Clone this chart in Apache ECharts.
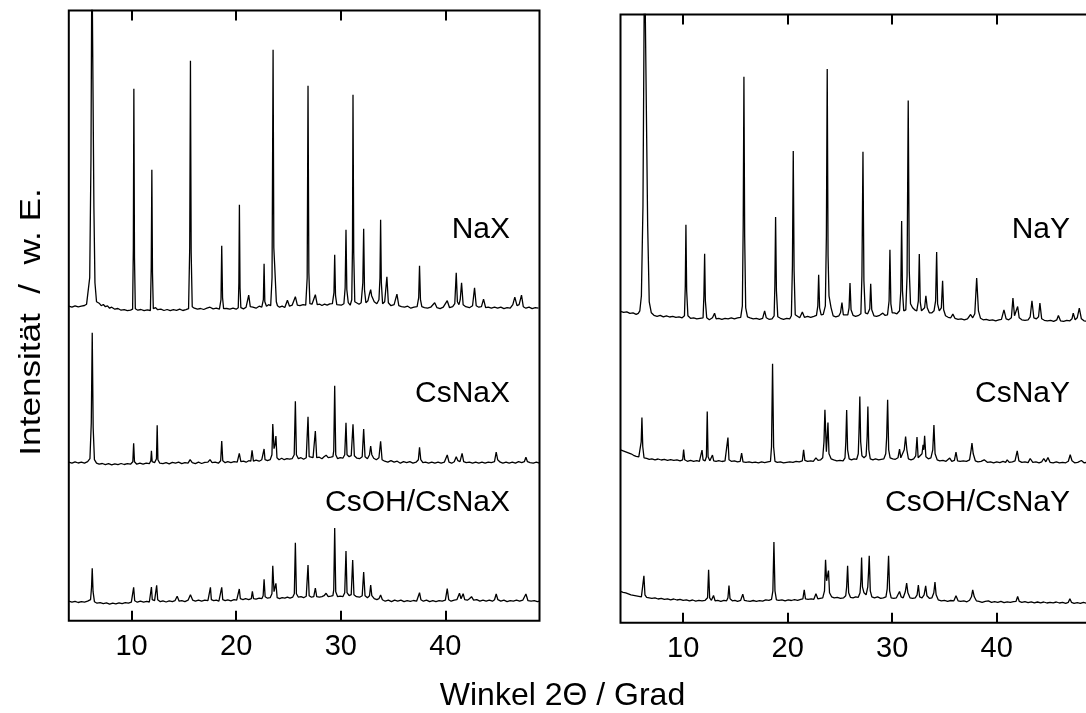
<!DOCTYPE html>
<html>
<head>
<meta charset="utf-8">
<title>Röntgendiffraktogramme</title>
<script src="https://cdn.jsdelivr.net/npm/echarts@6.0.0/dist/echarts.min.js"></script>
<style>
  html, body { margin: 0; padding: 0; background: #fff; }
  #chart { width: 1086px; height: 713px; }
</style>
</head>
<body>
<div id="chart"></div>
<script>
// Diffraction angle ticks (2Θ / Grad)
const thetaTicks = [10, 20, 30, 40];

// Pattern names as written next to each trace
const namesX = ['NaX', 'CsNaX', 'CsOH/CsNaX'];
const namesY = ['NaY', 'CsNaY', 'CsOH/CsNaY'];

// Vertical offsets used to stack the patterns (arbitrary units)
const offsetsX = [313, 158, 19];
const offsetsY = [307, 161, 22];

// Measured intensities [2Θ, I] (w. E.), relative to each pattern's base line
const NaX = [[4.0,1.5],[4.3,0.5],[4.6,1.8],[4.9,0.8],[5.2,1.5],[5.5,2.2],[5.7,3.5],[5.85,5],[6.0,30],[6.12,150],[6.21,360],[6.28,360],[6.4,100],[6.5,25],[6.65,6],[6.9,4.5],[7.1,2],[7.3,3.2],[7.5,1],[7.7,1.8],[7.9,-0.5],[8.1,0.5],[8.4,-1.5],[8.7,-0.8],[9.0,-2.5],[9.3,-2],[9.6,-3],[9.9,-2.5],[10.1,-1.5],[10.17,60],[10.22,219],[10.28,50],[10.36,-1],[10.6,-2.5],[10.9,-1.8],[11.2,-3],[11.5,-2.2],[11.8,-2.8],[11.88,40],[11.94,138],[12.0,35],[12.08,-1],[12.3,0],[12.5,-2],[12.8,-1.5],[13.1,-2.8],[13.4,-1.8],[13.7,-3],[14.0,-2],[14.3,-2.6],[14.6,-1.5],[14.9,-2.8],[15.2,-2],[15.45,-1],[15.56,60],[15.63,247],[15.7,55],[15.8,1],[16.0,-0.5],[16.3,-1.5],[16.6,-0.8],[16.9,-1.8],[17.2,-0.5],[17.5,0.5],[17.8,-1.2],[18.1,-0.5],[18.4,-1.5],[18.55,8],[18.62,62],[18.7,10],[18.8,-1],[19.1,-0.8],[19.4,-1.5],[19.7,-0.5],[20.0,-1.5],[20.2,0],[20.26,25],[20.31,103],[20.37,20],[20.45,0],[20.7,-1.2],[20.95,0.5],[21.2,12.5],[21.35,1],[21.6,0.5],[21.9,-0.5],[22.2,1.5],[22.45,0.5],[22.6,8],[22.67,44],[22.74,6],[22.9,1.5],[23.1,3],[23.3,2],[23.43,30],[23.53,258],[23.6,60],[23.68,43],[23.78,43],[23.84,6],[23.95,2],[24.15,0.5],[24.4,1.5],[24.65,0.2],[24.9,7.5],[25.1,1.5],[25.35,2.5],[25.66,11],[25.85,2.5],[26.1,2],[26.4,3],[26.65,2.5],[26.79,30],[26.87,222],[26.95,35],[27.05,4],[27.25,3.5],[27.57,13],[27.75,3],[28.0,3.5],[28.2,2.2],[28.45,3.5],[28.7,2.5],[28.95,3.8],[29.2,4],[29.35,15],[29.42,53],[29.5,12],[29.62,3],[29.8,1.5],[30.05,2.5],[30.3,4],[30.42,20],[30.5,78],[30.58,18],[30.72,5],[30.9,2.5],[31.05,8],[31.12,60],[31.17,213],[31.24,55],[31.34,6],[31.5,4.5],[31.75,3.5],[31.95,5],[32.11,25],[32.19,79],[32.27,18],[32.4,5],[32.6,7],[32.75,14],[32.86,18],[32.95,12],[33.05,14],[33.2,6],[33.45,4],[33.65,8],[33.75,30],[33.81,88],[33.88,25],[34.0,4],[34.2,6],[34.41,31],[34.55,5],[34.8,2],[35.1,3],[35.37,13.5],[35.55,2],[35.8,1],[36.1,0.5],[36.4,1.5],[36.7,-0.5],[37.0,0.5],[37.3,1],[37.45,10],[37.53,42],[37.62,8],[37.75,1],[38.0,0],[38.3,-0.5],[38.6,0.5],[38.98,5],[39.2,0],[39.5,-1],[39.8,0.5],[40.18,7],[40.4,0],[40.7,1],[40.9,4],[41.04,35],[41.15,6],[41.3,3],[41.42,8],[41.55,25],[41.7,3],[41.95,1],[42.3,0],[42.6,2],[42.79,20],[42.95,2],[43.2,0.5],[43.45,1],[43.65,8.5],[43.85,0],[44.1,0.5],[44.4,-0.5],[44.7,0.5],[45.0,-0.5],[45.3,0.5],[45.6,-1],[45.9,0],[46.2,-0.5],[46.45,3],[46.64,10.5],[46.85,2],[47.05,3],[47.28,12.5],[47.45,1],[47.7,-0.5],[48.0,0.5],[48.3,-1],[48.6,0],[48.9,-0.5]];

const CsNaX = [[4.0,0.5],[4.3,-0.5],[4.6,0.8],[4.9,-0.3],[5.2,0.5],[5.5,-0.5],[5.8,1],[6.02,4],[6.15,40],[6.24,130],[6.33,35],[6.45,3],[6.65,-0.5],[6.9,-1.5],[7.2,-0.8],[7.5,-2],[7.8,-1],[8.1,-2.2],[8.4,-1.2],[8.7,-2],[9.0,-0.8],[9.3,-1.8],[9.6,-1],[9.9,-1.5],[10.12,1],[10.2,19.5],[10.28,1],[10.5,-1.5],[10.8,-0.5],[11.1,-1.5],[11.4,-0.5],[11.7,-1],[11.84,2],[11.9,12],[11.97,1],[12.2,0],[12.38,4],[12.45,37.5],[12.52,3],[12.7,-0.5],[13.0,-1],[13.3,0],[13.6,-1.2],[13.9,0.3],[14.2,-0.5],[14.5,0.5],[14.8,-1],[15.1,0],[15.4,-0.5],[15.6,3],[15.8,0],[16.1,-1],[16.4,0.5],[16.7,-0.8],[17.0,0.3],[17.3,0.5],[17.5,3],[17.7,0],[18.0,0.5],[18.3,-0.5],[18.52,2],[18.62,21.7],[18.72,2],[18.95,0],[19.2,1],[19.5,0],[19.8,1],[20.1,0.5],[20.3,9.4],[20.45,1],[20.7,1.5],[20.95,0.5],[21.2,2],[21.4,1.5],[21.52,12.4],[21.65,1.5],[21.9,2.5],[22.2,1.5],[22.45,3],[22.6,5],[22.67,13.7],[22.76,3],[23.0,2],[23.25,3],[23.42,8],[23.5,38.7],[23.62,14],[23.72,18],[23.8,26.7],[23.9,5],[24.1,3],[24.35,4.5],[24.6,3],[24.85,4],[25.1,3.5],[25.35,4],[25.55,8],[25.66,61.4],[25.76,8],[25.95,4],[26.2,5],[26.45,3.5],[26.7,5],[26.87,46],[26.98,6],[27.15,4.5],[27.35,5],[27.57,31.7],[27.7,5],[27.95,5.5],[28.2,4],[28.4,6],[28.6,7.5],[28.8,5],[29.05,5.5],[29.25,6],[29.33,12],[29.42,77],[29.52,8],[29.7,4],[29.95,5],[30.2,4.5],[30.38,8],[30.5,40],[30.6,8],[30.8,6],[31.0,7],[31.17,38.4],[31.3,7],[31.55,4.5],[31.8,4],[32.05,6],[32.19,33.7],[32.32,6],[32.55,4],[32.75,8],[32.86,16.7],[32.97,8],[33.15,4.5],[33.4,3],[33.65,5],[33.81,21.4],[33.95,3],[34.2,1.5],[34.5,0.5],[34.8,2],[35.1,0.5],[35.4,1.5],[35.7,-0.5],[36.0,1],[36.3,0],[36.6,1],[36.9,-0.5],[37.2,0.5],[37.42,3],[37.53,15.4],[37.65,3],[37.85,0],[38.1,0.5],[38.4,-0.5],[38.7,0.5],[39.0,-0.5],[39.3,0.5],[39.6,-0.5],[39.9,0.5],[40.18,7.7],[40.35,0.5],[40.6,-0.5],[40.85,1],[41.04,6],[41.2,2],[41.4,1],[41.6,9.4],[41.75,1],[42.0,0],[42.3,0.5],[42.6,-0.5],[42.9,0.5],[43.2,-0.5],[43.5,0.5],[43.8,-0.5],[44.1,0.5],[44.4,0],[44.7,1],[44.86,10.7],[45.0,3],[45.25,0.5],[45.5,-0.5],[45.8,0.5],[46.1,-0.5],[46.4,0.5],[46.7,-0.5],[47.0,1],[47.3,0],[47.55,1],[47.7,5.4],[47.85,1],[48.1,0],[48.4,-0.5],[48.7,0.5],[49.0,-0.5]];

const CsOH_CsNaX = [[4.0,0.5],[4.3,-0.5],[4.6,0.3],[4.9,-0.8],[5.2,0],[5.5,-0.5],[5.8,0.5],[6.08,2],[6.17,14],[6.24,33.4],[6.32,10],[6.45,0],[6.7,-1.5],[7.0,-1],[7.3,-2],[7.6,-1.2],[7.9,-2.5],[8.2,-1.5],[8.5,-2.2],[8.8,-1.2],[9.1,-2],[9.4,-1],[9.7,-1.5],[9.98,-0.5],[10.12,1],[10.2,14.4],[10.3,1],[10.55,-0.5],[10.85,0.5],[11.15,-0.5],[11.45,0.3],[11.7,-0.3],[11.83,1],[11.9,14.7],[11.98,2],[12.2,1],[12.32,2],[12.4,16.4],[12.5,2],[12.75,0],[13.0,0.8],[13.3,-0.3],[13.6,0.8],[13.9,0],[14.15,1],[14.36,5.4],[14.55,0.5],[14.8,1],[15.1,0],[15.4,1.5],[15.63,7],[15.85,1.5],[16.1,0.5],[16.4,1.5],[16.7,0.5],[17.0,1.5],[17.3,1],[17.46,2],[17.54,14.4],[17.63,2],[17.85,1],[18.1,1.5],[18.35,0.5],[18.52,2],[18.62,14.4],[18.72,2],[18.95,1],[19.2,1.8],[19.5,0.8],[19.8,2],[20.05,1.5],[20.22,3],[20.3,12.7],[20.4,3],[20.65,2],[20.9,3],[21.2,2],[21.45,3],[21.55,10.4],[21.66,3],[21.9,2.5],[22.2,3.5],[22.45,3],[22.58,6],[22.67,22.4],[22.77,5],[23.0,3.5],[23.25,4],[23.42,8],[23.5,36],[23.62,10],[23.72,12],[23.8,18.4],[23.92,4],[24.15,3],[24.4,4],[24.65,3.5],[24.9,4.5],[25.15,3.5],[25.4,4.5],[25.56,8],[25.66,59],[25.76,8],[25.95,4.5],[26.2,5],[26.45,4],[26.7,5.5],[26.87,36.7],[26.98,6],[27.2,4.5],[27.42,5],[27.57,13.7],[27.7,5],[27.95,4.5],[28.2,5],[28.4,6],[28.6,8.4],[28.8,5],[29.05,5.5],[29.25,6],[29.33,12],[29.42,73.7],[29.52,10],[29.7,5],[29.95,5.5],[30.2,5],[30.38,9],[30.5,50.7],[30.6,9],[30.8,6],[31.0,7],[31.14,41.7],[31.26,7],[31.5,5],[31.8,4.5],[32.05,6],[32.19,29.7],[32.32,6],[32.55,4],[32.75,6],[32.86,16.7],[32.97,6],[33.2,3],[33.45,2],[33.65,3],[33.81,6.7],[33.98,2],[34.25,0.5],[34.55,1.5],[34.85,0],[35.15,1.5],[35.45,0.5],[35.75,1.5],[36.05,0],[36.35,1],[36.65,0.3],[36.95,1.2],[37.25,0.5],[37.42,2],[37.53,9],[37.66,2],[37.9,0.5],[38.2,1.5],[38.5,0],[38.8,1],[39.1,0],[39.4,1],[39.7,0.5],[40.0,1.5],[40.18,13],[40.32,2],[40.55,0.5],[40.85,1.5],[41.1,2],[41.35,8.4],[41.5,3],[41.7,8],[41.85,2],[42.1,1.5],[42.3,3],[42.5,5],[42.7,1.5],[43.0,2],[43.3,0.5],[43.6,1.5],[43.9,0.5],[44.2,1.5],[44.5,0.5],[44.7,2],[44.86,7.7],[45.02,2],[45.3,0.5],[45.6,1.5],[45.9,0],[46.2,1],[46.5,0.5],[46.8,1.5],[47.1,0.5],[47.4,1.5],[47.7,7.7],[47.9,1],[48.2,0.5],[48.5,1],[48.8,0],[49.0,0.5]];

const NaY = [[4.0,4.5],[4.3,3.5],[4.6,4],[4.9,2.5],[5.2,3],[5.5,1.5],[5.7,2.5],[5.85,5],[6.0,20],[6.15,110],[6.3,370],[6.44,370],[6.6,90],[6.75,14],[6.95,3],[7.2,0.5],[7.5,-0.5],[7.8,0.5],[8.1,-1],[8.4,0],[8.7,-1.2],[9.0,-0.5],[9.3,-1.5],[9.6,-1],[9.9,-2],[10.12,0],[10.2,30],[10.26,91],[10.33,25],[10.45,0],[10.7,-2.5],[11.0,-2],[11.3,-3],[11.6,-2.5],[11.9,-2],[11.98,20],[12.05,62],[12.12,15],[12.25,-2],[12.5,-4],[12.8,-2],[13.0,2.5],[13.15,-3],[13.4,-2.5],[13.7,-3.5],[14.0,-2.5],[14.3,-3],[14.6,-2],[14.9,-3],[15.2,-2],[15.5,-1.5],[15.66,10],[15.74,90],[15.81,239],[15.88,80],[15.98,8],[16.15,-1],[16.4,-2],[16.7,-3],[17.0,-2.5],[17.3,-3.5],[17.6,-2.5],[17.79,5],[17.95,-2],[18.2,-3.5],[18.5,-3],[18.7,0],[18.77,30],[18.84,98.7],[18.92,25],[19.05,-1],[19.3,-2.5],[19.6,-3.5],[19.9,-2.5],[20.2,-3],[20.35,0],[20.45,50],[20.53,164.7],[20.61,45],[20.72,1],[20.9,-1],[21.15,-2],[21.4,3.7],[21.6,-1.5],[21.9,-0.5],[22.2,-1.5],[22.5,-0.5],[22.75,0.5],[22.88,10],[22.96,41],[23.05,8],[23.2,1],[23.4,1.5],[23.6,10],[23.7,80],[23.78,246.7],[23.86,60],[23.95,20],[24.05,22],[24.15,8],[24.35,0],[24.6,-1],[24.9,0],[25.05,3],[25.19,13.3],[25.32,1],[25.5,-0.5],[25.75,1],[25.87,8],[25.96,32.7],[26.06,6],[26.25,0.5],[26.5,-0.5],[26.8,0.5],[27.0,2],[27.1,40],[27.2,164],[27.29,35],[27.42,3],[27.65,2],[27.85,7],[27.94,32],[28.04,6],[28.25,0],[28.5,-0.5],[28.8,0.5],[29.1,2.7],[29.3,0.5],[29.55,1],[29.7,15],[29.78,66],[29.87,12],[30.0,3],[30.2,3],[30.45,2],[30.7,5],[30.82,25],[30.9,94.7],[30.98,25],[31.1,5],[31.3,6],[31.42,40],[31.53,215.3],[31.63,45],[31.75,12],[31.95,8],[32.15,6],[32.35,5],[32.5,15],[32.59,61.7],[32.68,14],[32.8,5],[32.95,4],[33.1,8],[33.22,20],[33.35,8],[33.55,3],[33.8,3],[34.0,5],[34.15,15],[34.25,63.7],[34.34,12],[34.5,5],[34.7,8],[34.82,35],[34.92,6],[35.1,0],[35.35,-1.5],[35.6,-2],[35.8,1.7],[36.0,-2.5],[36.3,-3.5],[36.6,-3],[36.9,-4],[37.2,-3],[37.5,1.3],[37.7,-2],[37.9,2],[38.08,37.7],[38.25,5],[38.45,-2.5],[38.7,-4],[39.0,-3.5],[39.3,-4.5],[39.6,-4],[39.9,-5],[40.2,-4],[40.45,-3.5],[40.69,6],[40.9,-3],[41.15,-4],[41.4,-2],[41.55,17.7],[41.7,0],[41.85,-1],[42.0,9.3],[42.15,-2],[42.4,-4],[42.7,-4.5],[43.0,-4],[43.2,-1],[43.37,15],[43.55,-2],[43.8,-3],[44.0,-1],[44.13,12.7],[44.3,-3],[44.55,-4.5],[44.85,-5],[45.15,-4.5],[45.45,-5.5],[45.75,-4],[45.9,0.3],[46.1,-5],[46.4,-5.5],[46.7,-4.5],[47.0,-5],[47.2,-3],[47.32,2.7],[47.5,-4],[47.7,-2],[47.9,7.7],[48.1,-3],[48.35,-5],[48.6,-5.5],[48.9,-5]];

const CsNaY = [[4.0,12],[4.25,11],[4.5,10],[4.75,9],[5.0,8],[5.25,6.5],[5.5,5.5],[5.75,5],[5.9,6],[5.98,20],[6.05,44.3],[6.13,15],[6.25,4],[6.5,3.5],[6.75,2.5],[7.0,3],[7.3,2],[7.6,2.8],[7.9,1.8],[8.2,2.5],[8.5,1.5],[8.8,2.2],[9.1,1.5],[9.4,2],[9.7,1],[9.95,2],[10.04,12.3],[10.14,2],[10.4,0.5],[10.7,1.5],[11.0,0.5],[11.3,1.2],[11.55,0.5],[11.72,2],[11.8,11.7],[11.9,2],[12.1,1],[12.22,5],[12.3,50.3],[12.38,5],[12.55,1],[12.7,1.5],[12.8,6.7],[12.92,1],[13.15,0.5],[13.4,1.2],[13.7,0.3],[14.0,1],[14.18,3],[14.28,24.3],[14.38,2],[14.6,0.5],[14.9,1],[15.2,0],[15.45,0.5],[15.59,8.7],[15.72,0],[16.0,-0.5],[16.3,0],[16.6,-0.8],[16.9,-0.3],[17.2,-1],[17.5,0],[17.8,-0.8],[18.1,0],[18.35,0.5],[18.45,15],[18.55,98],[18.65,15],[18.78,0.5],[19.0,-0.5],[19.3,0],[19.6,-1],[19.9,-0.5],[20.2,0],[20.5,-0.5],[20.8,0.5],[21.1,0],[21.4,1],[21.52,12],[21.64,1.5],[21.9,0.5],[22.2,1],[22.45,0.5],[22.7,4],[22.9,1.5],[23.15,2],[23.35,4],[23.47,20],[23.56,52],[23.7,10],[23.78,25],[23.85,39.3],[23.95,8],[24.15,3],[24.4,2],[24.7,1],[25.0,1.5],[25.3,1],[25.48,4],[25.56,20],[25.64,51.7],[25.73,12],[25.88,3],[26.1,2],[26.35,3],[26.6,2.5],[26.75,8],[26.82,30],[26.9,65.3],[26.98,20],[27.1,6],[27.3,4],[27.5,6],[27.6,25],[27.67,55.3],[27.76,12],[27.9,3],[28.15,2],[28.4,3],[28.7,2],[28.95,2.5],[29.2,3],[29.38,8],[29.47,25],[29.56,62],[29.66,12],[29.8,4],[30.05,3],[30.3,2.5],[30.55,4],[30.7,12.7],[30.82,4],[31.0,3],[31.15,12],[31.28,25.3],[31.4,12],[31.55,3],[31.8,2],[32.05,3],[32.25,6],[32.37,24.7],[32.48,4],[32.65,3],[32.85,8],[32.95,17],[33.02,12],[33.1,26],[33.22,5],[33.45,3],[33.7,4],[33.88,12],[33.99,36.7],[34.1,8],[34.3,2],[34.55,1],[34.85,1.5],[35.15,0.5],[35.5,3.7],[35.7,0.5],[35.95,1.5],[36.1,9.7],[36.25,1],[36.5,0.5],[36.8,1],[37.1,0.5],[37.4,2],[37.55,12],[37.63,18.7],[37.75,8],[37.95,1],[38.2,0],[38.5,0.5],[38.8,2],[39.1,-0.5],[39.4,0],[39.7,-1],[40.0,0],[40.3,-0.8],[40.6,0.5],[40.85,-0.5],[41.0,2],[41.2,-0.5],[41.5,0],[41.75,1],[41.96,11],[42.12,1],[42.4,-0.5],[42.7,0],[43.0,-0.8],[43.2,3.3],[43.45,-0.5],[43.75,0],[44.05,-1],[44.3,0],[44.5,3.3],[44.7,0],[44.9,4.3],[45.1,-0.5],[45.4,-1],[45.7,0],[46.0,-1],[46.3,-0.5],[46.6,-1],[46.85,0.5],[47.03,7],[47.2,1],[47.45,-1],[47.75,-0.5],[48.1,1.3],[48.35,-1],[48.65,-0.5],[48.95,-1]];

const CsOH_CsNaY = [[4.0,9.5],[4.25,8.5],[4.5,8],[4.75,7],[5.0,6],[5.25,5.5],[5.5,5],[5.75,4.5],[6.0,4],[6.14,6],[6.24,25],[6.34,6],[6.5,3.5],[6.75,3],[7.0,2.5],[7.3,3],[7.6,1.8],[7.9,2.5],[8.2,1.5],[8.5,2],[8.8,1],[9.1,1.8],[9.4,0.8],[9.7,1.5],[10.0,0.5],[10.3,1],[10.6,0],[10.9,0.8],[11.2,-0.3],[11.5,0.5],[11.8,0],[12.1,0.5],[12.33,3],[12.43,31],[12.53,3],[12.7,0.5],[12.9,5.3],[13.05,0],[13.3,0.5],[13.6,-0.5],[13.9,0.5],[14.15,0],[14.28,3],[14.38,15.3],[14.48,2],[14.7,0],[14.95,0.5],[15.2,-0.5],[15.5,0.5],[15.7,6.7],[15.85,0.5],[16.1,0],[16.4,-0.5],[16.7,0.3],[17.0,-0.5],[17.3,0.2],[17.6,-0.3],[17.9,1],[18.2,0.5],[18.45,1.5],[18.58,10],[18.68,58.7],[18.78,10],[18.92,1],[19.15,0.5],[19.45,1],[19.75,0],[20.05,1],[20.35,0.3],[20.65,1.2],[20.95,0.5],[21.25,1.5],[21.45,2],[21.58,11],[21.7,2],[21.95,1.5],[22.25,2],[22.5,1.5],[22.7,7],[22.88,2],[23.1,2.5],[23.35,3],[23.52,10],[23.62,41],[23.72,20],[23.8,22],[23.9,30.3],[24.0,8],[24.2,4],[24.45,3],[24.75,3.5],[25.05,2.5],[25.35,3],[25.55,5],[25.64,14],[25.73,35],[25.83,8],[26.0,3.5],[26.25,3],[26.5,4],[26.75,3.5],[26.92,8],[27.0,20],[27.07,43.3],[27.15,14],[27.3,8],[27.5,6],[27.66,14],[27.74,30],[27.8,45],[27.9,10],[28.05,4],[28.3,3],[28.6,4],[28.9,2.5],[29.15,3],[29.4,4],[29.52,12],[29.65,45],[29.75,10],[29.9,3],[30.15,2.5],[30.4,3],[30.55,4],[30.7,9.3],[30.85,4],[31.05,3],[31.25,9],[31.38,17.7],[31.5,8],[31.7,3],[31.95,2.5],[32.2,3],[32.38,6],[32.5,15.7],[32.62,4],[32.85,3],[33.05,6],[33.2,15],[33.32,5],[33.55,2.5],[33.8,3],[33.98,8],[34.09,18.7],[34.2,6],[34.4,1],[34.7,0],[35.0,0.5],[35.3,-0.5],[35.6,0.3],[35.9,0],[36.1,5],[36.3,0],[36.55,-0.5],[36.85,0],[37.15,-1],[37.4,0.5],[37.58,4],[37.7,11],[37.85,4],[38.05,0],[38.3,-0.5],[38.6,-1.5],[38.9,-0.5],[39.2,0],[39.5,-1.5],[39.8,-0.8],[40.1,-1.5],[40.4,-0.5],[40.7,-1.8],[41.0,-1],[41.3,-1.5],[41.6,-0.8],[41.85,-0.5],[42.0,4.3],[42.15,-0.5],[42.4,-1.5],[42.7,-0.8],[43.0,-1.8],[43.3,-1],[43.6,-2],[43.9,-1.2],[44.2,-2],[44.5,-1.2],[44.8,-2.2],[45.1,-1.5],[45.4,-2],[45.7,-1.2],[46.0,-2.2],[46.3,-1.5],[46.6,-2.5],[46.85,-1.5],[47.0,2],[47.15,-1.5],[47.4,-2.5],[47.7,-1.8],[48.0,-2.5],[48.3,-1.5],[48.6,-2.5],[48.9,-2]];

const patternsX = [NaX, CsNaX, CsOH_CsNaX];
const patternsY = [NaY, CsNaY, CsOH_CsNaY];

const FONT = '"Liberation Sans", Arial, sans-serif';

// Shift a pattern up by its stacking offset
function stacked(pattern, offset) {
  return pattern.map(([t, i]) => [t, i + offset]);
}

function angleAxes(gridIndex) {
  const tick = {
    inside: true, length: 10, customValues: thetaTicks,
    lineStyle: { color: '#000', width: 2 }
  };
  return [
    {
      gridIndex, type: 'value', min: 4, max: 49, position: 'bottom',
      axisLine: { show: false }, splitLine: { show: false },
      axisTick: tick,
      axisLabel: { customValues: thetaTicks, color: '#000', fontSize: 29, fontFamily: FONT, margin: 12 }
    },
    {
      gridIndex, type: 'value', min: 4, max: 49, position: 'top',
      axisLine: { show: false }, splitLine: { show: false },
      axisTick: tick, axisLabel: { show: false }
    }
  ];
}

function traceSeries(patterns, offsets, axisIndex) {
  return patterns.map((p, k) => ({
    type: 'line', data: stacked(p, offsets[k]),
    xAxisIndex: axisIndex * 2, yAxisIndex: axisIndex,
    symbol: 'none', silent: true, clip: true,
    lineStyle: { color: '#000', width: 1.3 }
  }));
}

function nameText(text, x, y) {
  return {
    type: 'text', x, y, silent: true,
    style: { text, font: '30px ' + FONT, fill: '#000',
             align: 'right', verticalAlign: 'middle',
             textAlign: 'right', textVerticalAlign: 'middle' }
  };
}

const labelRowsY = [230, 394, 503];

const option = {
  backgroundColor: '#fff',
  animation: false,
  grid: [
    { left: 68.8, top: 10.5, width: 470.7, height: 610.2, show: true,
      borderColor: '#000', borderWidth: 2, backgroundColor: 'transparent',
      containLabel: false, outerBoundsMode: 'none' },
    { left: 620.5, top: 14.5, width: 470.3, height: 608.3, show: true,
      borderColor: '#000', borderWidth: 2, backgroundColor: 'transparent',
      containLabel: false, outerBoundsMode: 'none' }
  ],
  xAxis: [...angleAxes(0), ...angleAxes(1)],
  yAxis: [
    { gridIndex: 0, type: 'value', min: 0, max: 610.2, show: false },
    { gridIndex: 1, type: 'value', min: 0, max: 608.3, show: false }
  ],
  series: [...traceSeries(patternsX, offsetsX, 0), ...traceSeries(patternsY, offsetsY, 1)],
  graphic: [
    ...namesX.map((n, k) => nameText(n, 510, labelRowsY[k])),
    ...namesY.map((n, k) => nameText(n, 1070, labelRowsY[k])),
    {
      type: 'text', x: 562.5, y: 696, silent: true,
      style: { text: 'Winkel 2Θ / Grad', font: '32px ' + FONT, fill: '#000',
               align: 'center', verticalAlign: 'middle',
               textAlign: 'center', textVerticalAlign: 'middle' }
    },
    {
      type: 'text', x: 32, y: 322, rotation: Math.PI / 2, scaleX: 1.17, silent: true,
      style: { text: 'Intensität  /  w. E.', font: '30px ' + FONT, fill: '#000',
               align: 'center', verticalAlign: 'middle',
               textAlign: 'center', textVerticalAlign: 'middle' }
    }
  ]
};

const chart = echarts.init(document.getElementById('chart'), null, { renderer: 'canvas' });
chart.setOption(option);
</script>
</body>
</html>
